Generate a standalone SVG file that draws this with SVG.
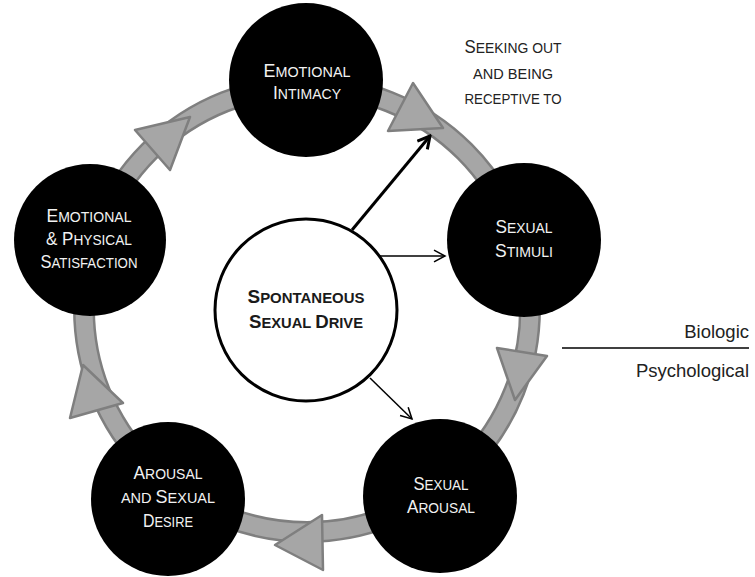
<svg xmlns="http://www.w3.org/2000/svg" width="755" height="577" viewBox="0 0 755 577">
<style>
.ringo{fill:none;stroke:#7f7f7f;stroke-width:22}
.ringi{fill:none;stroke:#a6a6a6;stroke-width:17}
.tri{fill:#a6a6a6;stroke:#7f7f7f;stroke-width:2.5;stroke-linejoin:round}
.node{fill:#000}
.nt{font-family:"Liberation Sans",Arial,sans-serif;fill:#f2f2f2;text-anchor:middle;font-size:14.5px}
.big{font-size:18px}
.ct{font-family:"Liberation Sans",Arial,sans-serif;fill:#1a1a1a;text-anchor:middle;font-size:15px;font-weight:bold}
.cbig{font-size:19px}
.lbl{font-family:"Liberation Sans",Arial,sans-serif;fill:#222;font-size:18.5px;text-anchor:end}
.st{font-family:"Liberation Sans",Arial,sans-serif;fill:#222;text-anchor:middle;font-size:14.5px}
.sbig{font-size:17.5px}
</style>
<defs>
<marker id="thin" viewBox="0 0 14 14" refX="12.5" refY="7" markerWidth="14" markerHeight="14" markerUnits="userSpaceOnUse" orient="auto">
<path d="M1.5,1.2 L12.5,7 L1.5,12.8" fill="none" stroke="#000" stroke-width="1.5"/>
</marker>
<marker id="thick" viewBox="0 0 16 16" refX="14" refY="8" markerWidth="16" markerHeight="16" markerUnits="userSpaceOnUse" orient="auto">
<path d="M2,1.5 L14,8 L2,14.5" fill="none" stroke="#000" stroke-width="3"/>
</marker>
</defs>
<rect width="755" height="577" fill="#fff"/>
<g id="cycle">
<circle class="ringo" cx="307" cy="309" r="223"/>
<circle class="ringi" cx="307" cy="309" r="223"/>
<polygon class="tri" points="413,83 388,131 443,128"/>
<polygon class="tri" points="497,348 547,356 515,400"/>
<polygon class="tri" points="322,515 323,570 275,545"/>
<polygon class="tri" points="83,365 70,418 123,403"/>
<polygon class="tri" points="135,130 170,170 190,117"/>
</g>
<g id="connectors">
<line x1="352" y1="230" x2="430" y2="136" stroke="#000" stroke-width="3" marker-end="url(#thick)"/>
<line x1="380" y1="256" x2="445" y2="256" stroke="#000" stroke-width="1.5" marker-end="url(#thin)"/>
<line x1="370" y1="378" x2="412" y2="419" stroke="#000" stroke-width="1.5" marker-end="url(#thin)"/>
</g>
<g id="n-intimacy">
<circle class="node" cx="306" cy="80" r="77"/>
<text class="nt" x="307" y="77" textLength="87" lengthAdjust="spacingAndGlyphs"><tspan class="big">E</tspan>MOTIONAL</text>
<text class="nt" x="307" y="99" textLength="68" lengthAdjust="spacingAndGlyphs"><tspan class="big">I</tspan>NTIMACY</text>
</g>
<g id="n-stimuli">
<circle class="node" cx="524" cy="240" r="77"/>
<text class="nt" x="524" y="233" textLength="57" lengthAdjust="spacingAndGlyphs"><tspan class="big">S</tspan>EXUAL</text>
<text class="nt" x="524" y="257" textLength="58" lengthAdjust="spacingAndGlyphs"><tspan class="big">S</tspan>TIMULI</text>
</g>
<g id="n-arousal">
<circle class="node" cx="440" cy="496" r="77"/>
<text class="nt" x="441" y="490" textLength="55" lengthAdjust="spacingAndGlyphs"><tspan class="big">S</tspan>EXUAL</text>
<text class="nt" x="441" y="513" textLength="68" lengthAdjust="spacingAndGlyphs"><tspan class="big">A</tspan>ROUSAL</text>
</g>
<g id="n-desire">
<circle class="node" cx="168" cy="499" r="77"/>
<text class="nt" x="168" y="479" textLength="69" lengthAdjust="spacingAndGlyphs"><tspan class="big">A</tspan>ROUSAL</text>
<text class="nt" x="168" y="503">AND <tspan class="big">S</tspan>EXUAL</text>
<text class="nt" x="168" y="527" textLength="50" lengthAdjust="spacingAndGlyphs"><tspan class="big">D</tspan>ESIRE</text>
</g>
<g id="n-satisfaction">
<circle class="node" cx="90" cy="240" r="76"/>
<text class="nt" x="89" y="222" textLength="85" lengthAdjust="spacingAndGlyphs"><tspan class="big">E</tspan>MOTIONAL</text>
<text class="nt" x="89" y="245" textLength="86" lengthAdjust="spacingAndGlyphs"><tspan class="big">&amp; P</tspan>HYSICAL</text>
<text class="nt" x="89" y="268" textLength="97" lengthAdjust="spacingAndGlyphs"><tspan class="big">S</tspan>ATISFACTION</text>
</g>
<g id="n-drive">
<circle cx="306" cy="310" r="91" fill="#fff" stroke="#000" stroke-width="3"/>
<text class="ct" x="306" y="303" textLength="117" lengthAdjust="spacingAndGlyphs"><tspan class="cbig">S</tspan>PONTANEOUS</text>
<text class="ct" x="306" y="328" textLength="114" lengthAdjust="spacingAndGlyphs"><tspan class="cbig">S</tspan>EXUAL <tspan class="cbig">D</tspan>RIVE</text>
</g>
<g id="seeking">
<text class="st" x="513" y="53" textLength="97" lengthAdjust="spacingAndGlyphs"><tspan class="sbig">S</tspan>EEKING OUT</text>
<text class="st" x="513" y="79" textLength="80" lengthAdjust="spacingAndGlyphs">AND BEING</text>
<text class="st" x="513" y="104" textLength="97" lengthAdjust="spacingAndGlyphs">RECEPTIVE TO</text>
</g>
<g id="divider">
<line x1="562" y1="348" x2="749" y2="348" stroke="#000" stroke-width="1.5"/>
<text class="lbl" x="749" y="338">Biologic</text>
<text class="lbl" x="749" y="377">Psychological</text>
</g>
</svg>
